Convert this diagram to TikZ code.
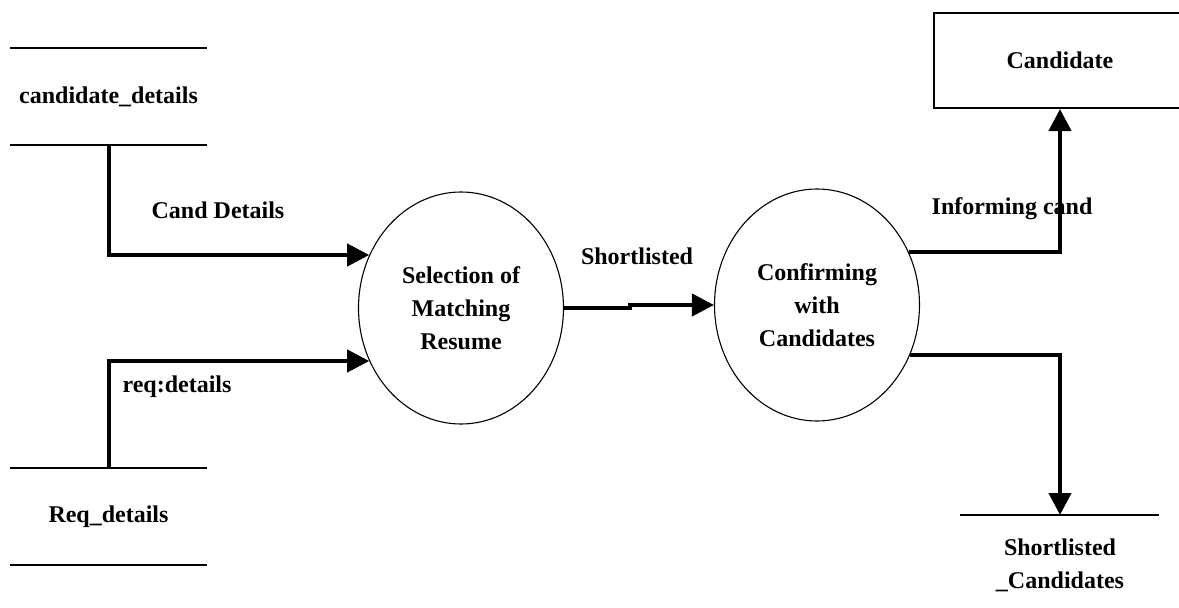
\documentclass[tikz,border=0pt]{standalone}
\usepackage{fontspec}
\setmainfont{Liberation Serif}
\usetikzlibrary{arrows.meta,shapes.geometric}
\begin{document}
\begin{tikzpicture}[x=1pt,y=-1pt,
  txt/.style={font=\fontsize{24}{33}\selectfont\bfseries, inner sep=0pt, align=center},
  proc/.style={ellipse, draw, line width=1.1pt, minimum width=205pt, minimum height=232pt,
    inner sep=0pt, align=center, font=\fontsize{24}{33}\selectfont\bfseries},
  store/.style={minimum width=197pt, minimum height=97pt, inner sep=0pt,
    font=\fontsize{24}{33}\selectfont\bfseries},
  storeline/.style={line width=2pt},
  entity/.style={rectangle, draw, line width=2pt, minimum width=252pt, minimum height=95pt,
    inner sep=0pt, font=\fontsize{24}{33}\selectfont\bfseries},
  flow/.style={line width=4pt, -{Triangle[length=22pt,width=22pt]}},
]
\useasboundingbox (0,0) rectangle (1179,608);
\clip (0,0) rectangle (1179,608);
\fill[white] (0,0) rectangle (1179,608);

% data stores
\node[store] (cd) at (108.5,96.5) {candidate\_details};
\draw[storeline] (cd.north west) -- (cd.north east) (cd.south west) -- (cd.south east);
\node[store] (rd) at (108.5,516.5) {Req\_details};
\draw[storeline] (rd.north west) -- (rd.north east) (rd.south west) -- (rd.south east);

\coordinate (scl) at (960,515);
\coordinate (scr) at (1159,515);
\coordinate (sct) at (1060,515);
\draw[storeline] (scl) -- (scr);
\node[txt] (sc) at (1060,565) {Shortlisted\\\_Candidates};

% processes
\node[proc] (p1) at (461,308) {Selection of\\Matching\\Resume};
\node[proc] (p2) at (817,305) {Confirming\\with\\Candidates};

% external entity
\node[entity] (cand) at (1060,60.5) {Candidate};

% labels
\node[txt] (l1) at (218,210) {Cand Details};
\node[txt] (l2) at (177,387) {req:details};
\node[txt] (l3) at (637,256) {Shortlisted};
\node[txt] (l4) at (1012,209) {Informing cand};

% flows
\draw[flow] (cd.south) |- (p1.150);
\draw[flow] (rd.north) |- (p1.210);
\draw[flow] (p1.east) -- ++(66,0) |- (p2.west);
\draw[flow] (p2.30) -| (cand.south);
\draw[flow] (p2.-28) -| (sct);
\end{tikzpicture}
\end{document}
